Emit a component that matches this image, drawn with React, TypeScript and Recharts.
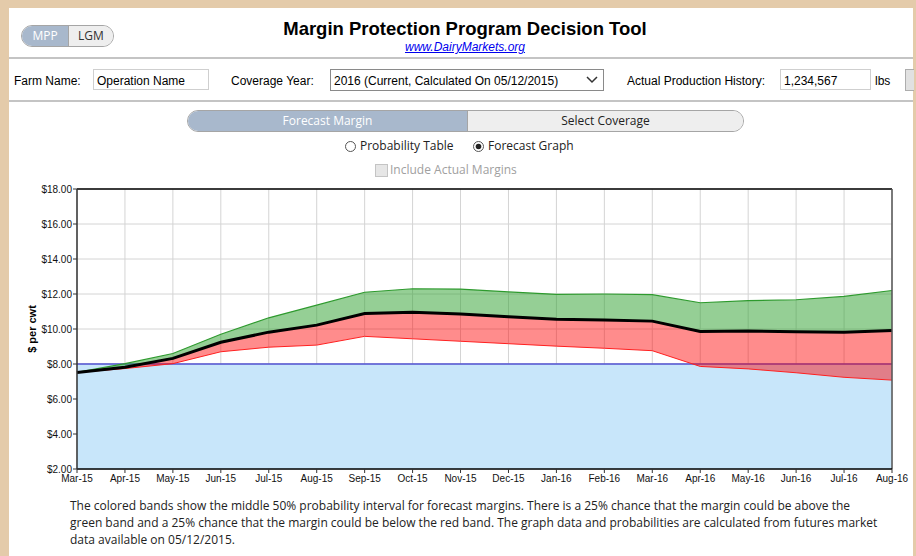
import { Area, CartesianGrid, ComposedChart, Line, ReferenceLine, XAxis, YAxis } from "recharts";

const months = [
  "Mar-15", "Apr-15", "May-15", "Jun-15", "Jul-15", "Aug-15", "Sep-15", "Oct-15", "Nov-15",
  "Dec-15", "Jan-16", "Feb-16", "Mar-16", "Apr-16", "May-16", "Jun-16", "Jul-16", "Aug-16"
];

// 75th percentile (top of green band)
const upperQuartile = [7.52, 8.02, 8.6, 9.7, 10.64, 11.36, 12.1, 12.3, 12.28, 12.12, 11.98, 12.0, 11.96, 11.5, 11.62, 11.67, 11.86, 12.2];
// expected margin (black line)
const expectedMargin = [7.52, 7.82, 8.32, 9.24, 9.82, 10.22, 10.88, 10.95, 10.86, 10.7, 10.56, 10.52, 10.45, 9.86, 9.89, 9.84, 9.82, 9.92];
// 25th percentile (bottom of red band)
const lowerQuartile = [7.52, 7.74, 8.02, 8.7, 8.96, 9.08, 9.58, 9.44, 9.3, 9.16, 9.02, 8.9, 8.76, 7.86, 7.72, 7.5, 7.24, 7.08];

const yTicks = [2, 4, 6, 8, 10, 12, 14, 16, 18];
const COVERAGE_LEVEL = 8;

const data = months.map((month, i) => ({
  month,
  coverage: COVERAGE_LEVEL,
  redBand: [lowerQuartile[i], expectedMargin[i]],
  greenBand: [expectedMargin[i], upperQuartile[i]],
  mean: expectedMargin[i]
}));

const uiFont = "'Open Sans', 'Noto Sans', sans-serif";
const arial = "Arial, 'Liberation Sans', sans-serif";

function Txt({ x, y, children, style }: { x: number; y: number; children: any; style?: any }) {
  return (
    <div style={{ position: "absolute", left: x, top: y, whiteSpace: "nowrap", lineHeight: "14px", ...style }}>
      {children}
    </div>
  );
}

function Radio({ x, y, checked }: { x: number; y: number; checked?: boolean }) {
  return (
    <svg style={{ position: "absolute", left: x, top: y }} width={13} height={13}>
      <circle cx={6.5} cy={6.5} r={5} fill="#fff" stroke="#555" strokeWidth={1} />
      {checked && <circle cx={6.5} cy={6.5} r={2.8} fill="#222" />}
    </svg>
  );
}

export default function App() {
  return (
    <div style={{ position: "relative", width: 916, height: 556, overflow: "hidden", background: "#e4cbaa", fontFamily: arial }}>
      <style>{"body{margin:0;}"}</style>

      {/* white panel */}
      <div style={{ position: "absolute", left: 9, top: 8, width: 904, height: 560, background: "#fff" }} />

      {/* MPP / LGM toggle */}
      <div
        style={{
          position: "absolute", left: 21, top: 25, width: 91, height: 20, borderRadius: 11,
          border: "1px solid #a5a5a5", overflow: "hidden", display: "flex", fontFamily: uiFont, fontSize: 12
        }}
      >
        <div style={{ width: 46, background: "#a8b8cc", color: "#fff", textAlign: "center", lineHeight: "20px", borderRight: "1px solid #a5a5a5" }}>MPP</div>
        <div style={{ flex: 1, background: "#eeeeee", color: "#333", textAlign: "center", lineHeight: "20px" }}>LGM</div>
      </div>

      {/* title */}
      <div style={{ position: "absolute", left: 265, top: 19, width: 400, textAlign: "center", fontWeight: "bold", fontSize: 18.5, lineHeight: "20px", color: "#000" }}>
        Margin Protection Program Decision Tool
      </div>
      <div style={{ position: "absolute", left: 365, top: 40, width: 200, textAlign: "center", fontSize: 12, lineHeight: "14px", fontStyle: "italic", color: "#0000ee", textDecoration: "underline" }}>
        www.DairyMarkets.org
      </div>

      {/* rules */}
      <div style={{ position: "absolute", left: 9, top: 57, width: 904, height: 2, background: "#c4c4c4" }} />
      <div style={{ position: "absolute", left: 9, top: 100, width: 904, height: 2, background: "#c4c4c4" }} />

      {/* form row */}
      <Txt x={14} y={74} style={{ fontSize: 12 }}>Farm Name:</Txt>
      <div style={{ position: "absolute", left: 93, top: 69, width: 114, height: 19, border: "1px solid #cfcfcf" }} />
      <Txt x={97} y={74} style={{ fontSize: 12 }}>Operation Name</Txt>

      <Txt x={231} y={74} style={{ fontSize: 12 }}>Coverage Year:</Txt>
      <div style={{ position: "absolute", left: 330, top: 69, width: 272, height: 20, border: "1px solid #8a8a8a" }} />
      <Txt x={334} y={74} style={{ fontSize: 12 }}>2016 (Current, Calculated On 05/12/2015)</Txt>
      <svg style={{ position: "absolute", left: 586, top: 76 }} width={12} height={8}>
        <polyline points="1,1 6,6 11,1" fill="none" stroke="#333" strokeWidth={1.5} />
      </svg>

      <Txt x={627} y={74} style={{ fontSize: 12 }}>Actual Production History:</Txt>
      <div style={{ position: "absolute", left: 780, top: 69, width: 89, height: 19, border: "1px solid #cfcfcf" }} />
      <Txt x={784} y={74} style={{ fontSize: 12 }}>1,234,567</Txt>
      <Txt x={875} y={74} style={{ fontSize: 12 }}>lbs</Txt>
      <div style={{ position: "absolute", left: 905, top: 69, width: 8, height: 20, background: "#e1e1e1", borderTop: "1px solid #adadad", borderBottom: "1px solid #adadad", borderLeft: "1px solid #adadad" }} />

      {/* tabs */}
      <div
        style={{
          position: "absolute", left: 187, top: 110, width: 555, height: 20, borderRadius: 11,
          border: "1px solid #a5a5a5", overflow: "hidden", display: "flex", fontFamily: uiFont, fontSize: 12
        }}
      >
        <div style={{ width: 279, background: "#a8b8cc", color: "#fff", textAlign: "center", lineHeight: "20px", borderRight: "1px solid #a5a5a5" }}>Forecast Margin</div>
        <div style={{ flex: 1, background: "#eeeeee", color: "#222", textAlign: "center", lineHeight: "20px" }}>Select Coverage</div>
      </div>

      {/* radios */}
      <Radio x={344} y={140} />
      <Txt x={360} y={139} style={{ fontFamily: uiFont, fontSize: 12, color: "#222" }}>Probability Table</Txt>
      <Radio x={472} y={140} checked />
      <Txt x={488} y={139} style={{ fontFamily: uiFont, fontSize: 12, color: "#222" }}>Forecast Graph</Txt>

      {/* disabled checkbox */}
      <div style={{ position: "absolute", left: 375, top: 164, width: 11, height: 11, background: "#e6e6e6", border: "1px solid #c4c4c4" }} />
      <Txt x={390} y={163} style={{ fontFamily: uiFont, fontSize: 12, color: "#a0a0a0" }}>Include Actual Margins</Txt>

      {/* y axis title */}
      <div
        style={{
          position: "absolute", left: 32, top: 329, transform: "translate(-50%, -50%) rotate(-90deg)",
          fontWeight: "bold", fontSize: 11, whiteSpace: "nowrap", color: "#000"
        }}
      >
        $ per cwt
      </div>

      {/* chart */}
      <div style={{ position: "absolute", left: 0, top: 180 }}>
        <ComposedChart width={910} height={310} data={data} margin={{ top: 9, right: 18, left: 0, bottom: 0 }}>
          <CartesianGrid stroke="#d4d4d4" />
          <XAxis
            dataKey="month"
            scale="point"
            interval={0}
            height={21}
            tickSize={4}
            tickMargin={2}
            tick={{ fontSize: 10, fill: "#111", fontFamily: arial }}
            tickLine={{ stroke: "#333" }}
            axisLine={{ stroke: "#000", strokeWidth: 1.5 }}
          />
          <YAxis
            domain={[2, 18]}
            ticks={yTicks}
            width={77}
            tickSize={4}
            tickMargin={1}
            tickFormatter={(v: number) => `$${v.toFixed(2)}`}
            tick={{ fontSize: 10, fill: "#111", fontFamily: arial }}
            tickLine={{ stroke: "#333" }}
            axisLine={{ stroke: "#333", strokeWidth: 1.5 }}
          />
          <Area
            type="linear"
            dataKey="coverage"
            stroke="#5050d0"
            strokeWidth={1.5}
            fill="#c8e6fa"
            fillOpacity={1}
            isAnimationActive={false}
          />
          <Area
            type="linear"
            dataKey="redBand"
            stroke="#ff2020"
            strokeWidth={1}
            fill="#ff0000"
            fillOpacity={0.45}
            isAnimationActive={false}
          />
          <Area
            type="linear"
            dataKey="greenBand"
            stroke="#2e9a2e"
            strokeWidth={1.2}
            fill="#2ca02c"
            fillOpacity={0.5}
            isAnimationActive={false}
          />
          <Line type="linear" dataKey="mean" stroke="#000" strokeWidth={3} dot={false} isAnimationActive={false} />
          <ReferenceLine y={18} stroke="#000" strokeWidth={1.5} />
          <ReferenceLine x="Aug-16" stroke="#555" strokeWidth={1.5} />
        </ComposedChart>
      </div>

      {/* caption */}
      <div style={{ position: "absolute", left: 70, top: 497, fontFamily: uiFont, fontSize: 12, lineHeight: "17px", color: "#222", whiteSpace: "nowrap" }}>
        The colored bands show the middle 50% probability interval for forecast margins. There is a 25% chance that the margin could be above the
        <br />
        green band and a 25% chance that the margin could be below the red band. The graph data and probabilities are calculated from futures market
        <br />
        data available on 05/12/2015.
      </div>
    </div>
  );
}
